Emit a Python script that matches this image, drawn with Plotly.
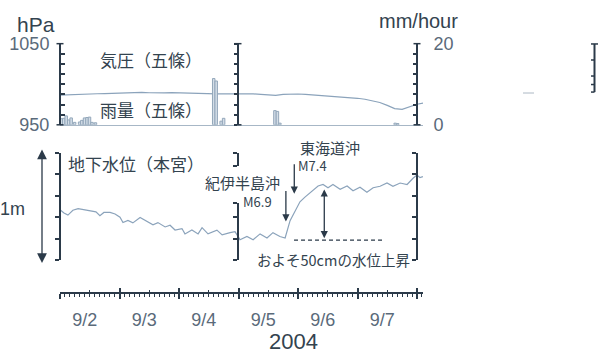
import pandas as pd
import plotly.graph_objects as go

# ---------------- data ----------------
T0 = pd.Timestamp("2004-09-02 00:00")

# barometric pressure at Gojo (hPa), every 3 hours from 9/2 00:00
pressure_hours = [0, 3, 6, 9, 12, 15, 18, 21, 24, 27, 30, 33, 36, 39, 42, 45, 48, 51, 54, 57,
                  60, 63, 66, 69, 72, 75, 78, 81, 84, 87, 90, 93, 96, 99, 102, 105, 108, 111,
                  114, 117, 120, 123, 126, 129, 132, 135, 138, 141, 144, 147]
pressure_hpa = [986.5, 987.0, 987.5, 987.8, 988.0, 988.3, 988.5, 989.0, 989.3, 989.5,
                990.0, 990.1, 989.5, 989.1, 989.3, 989.7, 989.3, 989.1, 988.7, 988.5,
                988.3, 988.1, 988.2, 988.3, 988.3, 988.3, 988.1, 987.5, 986.7, 986.3,
                987.5, 988.2, 988.0, 987.5, 986.8, 986.3, 985.8, 985.3, 984.5, 983.7,
                982.7, 981.5, 979.7, 977.5, 974.0, 970.0, 969.1, 972.0, 975.3, 977.0]

# hourly rainfall at Gojo (mm/hour); hour = start of the hour from 9/2 00:00
rain_hours = [0, 1, 2, 3, 4, 5.4, 7.4, 8.3, 9.4, 10.4, 11.4, 12.4, 13.8,
              61.5, 62.5, 64.5, 65.5, 86.2, 87.2, 88.2, 134.7, 135.7]
rain_mm = [1.5, 1.6, 2.2, 1.2, 1.7, 0.6, 0.7, 1.1, 1.7, 1.8, 1.9, 0.6, 0.5,
           11.4, 10.8, 0.9, 1.6, 3.5, 3.3, 0.4, 0.4, 0.3]

# groundwater level at Hongu (cm, relative)
gw_hours = [0, 1.6, 3.2, 5.2, 7.3, 9.7, 12.1, 14.5, 16.1, 17.7, 20.2, 22.2, 24.2, 25.4,
            27.4, 29.4, 32.3, 35.1, 37.5, 39.5, 42.4, 44.4, 46.4, 49.2, 50.4, 53.2, 55.7,
            57.3, 59.7, 63.3, 65.4, 68.6, 70.6, 72.6, 75.4, 77.9, 80.7, 83.5, 85.9, 88.7,
            90.8, 92.8, 95.6, 96.8, 98.8, 101.7, 104.1, 106.1, 108.1, 110.1, 113.0, 115.8,
            118.2, 121.0, 123.8, 126.3, 129.1, 131.9, 134.3, 137.2, 140.0, 142.4, 144.0,
            145.2, 146.4]
gw_cm = [47, 44, 42, 46.5, 48, 47, 46, 45, 41.5, 44.5, 44.5, 43, 40, 35,
         37, 34.7, 39.7, 36, 33, 35, 30.9, 32.5, 28, 29.4, 24.4, 28, 24.4,
         30.3, 24.4, 27.9, 23.5, 25.6, 26.5, 19, 22, 19, 24.4, 20.6, 25.6, 22,
         20.6, 36.8, 50, 54.4, 58.8, 64.7, 69.2, 70.6, 67.6, 70.6, 66.2, 69.2,
         64.7, 68, 63.3, 67.6, 69, 72, 69, 72, 70.6, 76.5, 79.4,
         77, 78]

# earthquakes
quake_times = ["2004-09-05 19:07", "2004-09-05 22:30"]
quake_names = ["紀伊半島沖", "東海道沖"]
quake_mags = ["M6.9", "M7.4"]
quake_arrow_cm = [(66, 36), (91, 62)]      # arrow tail / head levels

# "about 50 cm rise" marker
base_level_cm = 18.5
base_times = ["2004-09-05 22:24", "2004-09-07 09:54"]
rise_time = "2004-09-06 10:36"
rise_cm = (19, 66)

# axis ticks / labels
pressure_ticks = [950, 962.5, 975, 987.5, 1000, 1012.5, 1025, 1037.5, 1050]
pressure_ticktext = ["950", "", "", "", "", "", "", "", "1050"]
rain_ticks = [0, 2.5, 5, 7.5, 10, 12.5, 15, 17.5, 20]
rain_ticktext = ["0", "", "", "", "", "", "", "", "20"]
gw_ticks = [0, 20, 40, 60, 80, 100]

# ---------------- layout helpers ----------------
W, H = 600, 353
def px(x):
    return x / W
def py(y):
    return 1 - y / H

AX = "#2b3a49"
TXT = "#33434f"
NUM = "#5a6a7a"
LINE = "#8ba3bb"
JP = "Noto Sans CJK JP"
LAT = "Liberation Sans, Arial, sans-serif"

x_start = T0
x_end = T0 + pd.Timedelta(days=(423 - 60) / 59.5)
XDOM = [px(60), px(423)]
TOP = [py(121.7), py(35.7)]
BOT = [py(265), py(151.7)]

def ts(hours):
    return [T0 + pd.Timedelta(hours=h) for h in hours]

fig = go.Figure()

fig.add_trace(go.Bar(x=ts(rain_hours), y=rain_mm, xaxis="x", yaxis="y2",
                     width=3600000, offset=0,
                     marker=dict(color="#d3dde7", line=dict(color="#93a7ba", width=1)),
                     hoverinfo="skip", showlegend=False))
fig.add_trace(go.Scatter(x=ts(pressure_hours), y=pressure_hpa, xaxis="x", yaxis="y",
                         mode="lines", line=dict(color=LINE, width=1.2),
                         hoverinfo="skip", showlegend=False))
fig.add_trace(go.Scatter(x=ts(gw_hours), y=gw_cm, xaxis="x", yaxis="y4",
                         mode="lines", line=dict(color=LINE, width=1.2),
                         hoverinfo="skip", showlegend=False))
fig.add_trace(go.Scatter(x=base_times, y=[base_level_cm, base_level_cm], xaxis="x", yaxis="y4",
                         mode="lines", line=dict(color=AX, width=1.2, dash="4px,3px"),
                         hoverinfo="skip", showlegend=False))
# empty traces so that every decorative axis is drawn
for xa, ya in [("x", "y3"), ("x", "y5"), ("x", "y6"), ("x", "y7"), ("x2", "y4"), ("x3", "y4")]:
    fig.add_trace(go.Scatter(x=[None], y=[None], xaxis=xa, yaxis=ya, mode="lines",
                             hoverinfo="skip", showlegend=False))

common_x = dict(range=[x_start, x_end], domain=XDOM, showgrid=False, zeroline=False, type="date")
fig.update_layout(
    width=W, height=H, margin=dict(l=0, r=0, t=0, b=0),
    paper_bgcolor="white", plot_bgcolor="rgba(0,0,0,0)", barmode="overlay",
    xaxis=dict(**common_x, anchor="y", showline=True, linecolor="#a7b7c6", linewidth=1,
               ticks="", showticklabels=False),
    xaxis2=dict(**common_x, anchor="free", position=py(300), side="bottom",
                showline=True, linecolor=AX, linewidth=2,
                ticks="outside", ticklen=5, tickwidth=1.5, tickcolor=AX,
                tick0=T0, dtick=86400000, tickformat="%-m/%-d", ticklabelmode="period",
                ticklabelshift=-5, ticklabelstandoff=5,
                tickfont=dict(family=LAT, size=18, color=NUM),
                minor=dict(dtick=7200000, tick0=T0, ticks="outside", ticklen=2.5,
                           tickwidth=1, tickcolor=AX)),
    xaxis3=dict(**common_x, anchor="free", position=py(300), overlaying="x2", side="bottom",
                showline=False, ticks="inside", ticklen=5, tickwidth=1.5, tickcolor=AX,
                tick0=T0, dtick=86400000, showticklabels=False,
                minor=dict(dtick=43200000, tick0=T0, ticks="inside", ticklen=3,
                           tickwidth=1, tickcolor=AX)),
    yaxis=dict(domain=TOP, range=[950, 1050], anchor="free", position=px(60), side="left",
               showline=True, linecolor=AX, linewidth=2, ticks="inside", ticklen=3.5,
               tickwidth=1.5, tickcolor=AX, tickvals=pressure_ticks, ticktext=pressure_ticktext,
               ticklabelstandoff=6, tickfont=dict(family=LAT, size=18, color=NUM),
               showgrid=False, zeroline=False),
    yaxis2=dict(range=[0, 20], anchor="free", position=px(417), side="right", overlaying="y",
                showline=True, linecolor=AX, linewidth=2, ticks="inside", ticklen=3.5,
                tickwidth=1.5, tickcolor=AX, tickvals=rain_ticks, ticktext=rain_ticktext,
                ticklabelstandoff=12, tickfont=dict(family=LAT, size=18, color=NUM),
                showgrid=False, zeroline=False),
    yaxis3=dict(range=[950, 1050], anchor="free", position=px(238), side="left", overlaying="y",
                showline=True, linecolor=AX, linewidth=2, ticks="outside", ticklen=3.5,
                tickwidth=1.5, tickcolor=AX, tickvals=pressure_ticks, showticklabels=False,
                showgrid=False, zeroline=False),
    yaxis4=dict(domain=BOT, range=[0, 100], anchor="free", position=px(60), side="left",
                showline=True, linecolor=AX, linewidth=2, ticks="outside", ticklen=4,
                tickwidth=1.5, tickcolor=AX, tickvals=gw_ticks, showticklabels=False,
                showgrid=False, zeroline=False),
    yaxis5=dict(range=[0, 100], anchor="free", position=px(417), side="left", overlaying="y4",
                showline=True, linecolor=AX, linewidth=2, ticks="outside", ticklen=4,
                tickwidth=1.5, tickcolor=AX, tickvals=gw_ticks, showticklabels=False,
                showgrid=False, zeroline=False),
    yaxis6=dict(domain=[py(265), py(205)], range=[0, 100 * (265 - 205) / (265 - 151.7)],
                anchor="free", position=px(238), side="left",
                showline=True, linecolor=AX, linewidth=2, ticks="outside", ticklen=4,
                tickwidth=1.5, tickcolor=AX,
                tickvals=[0, 20, 40, 100 * (265 - 205) / (265 - 151.7)],
                showticklabels=False, showgrid=False, zeroline=False),
    yaxis7=dict(domain=[py(165), py(151.7)], range=[0, 1], anchor="free", position=px(238),
                side="left", showline=True, linecolor=AX, linewidth=2, ticks="outside",
                ticklen=4, tickwidth=1.5, tickcolor=AX, tickvals=[0, 1],
                showticklabels=False, showgrid=False, zeroline=False),
)

shapes = []
# caps on the top panel axes (both sides)
for xp in (60, 238, 417):
    for yy in (0, 1):
        shapes.append(dict(type="line", xref="paper", yref="y domain",
                           x0=px(xp - 3.5), x1=px(xp + 3.5), y0=yy, y1=yy,
                           line=dict(color=AX, width=1.5)))
# stray fragment at far right
shapes.append(dict(type="line", xref="paper", yref="paper", x0=px(594.5), x1=px(594.5),
                   y0=py(36), y1=py(87), line=dict(color=AX, width=2)))
for yy, l, r in [(36, 591, 598), (53, 591, 594.5), (70, 591, 594.5), (79, 591, 594.5), (87, 591, 594.5)]:
    shapes.append(dict(type="line", xref="paper", yref="paper", x0=px(l), x1=px(r),
                       y0=py(yy), y1=py(yy), line=dict(color=AX, width=1.5)))
shapes.append(dict(type="line", xref="paper", yref="paper", x0=px(523), x1=px(534),
                   y0=py(88), y1=py(88), line=dict(color="#c8d0d8", width=1.5)))
fig.update_layout(shapes=shapes)

ann = []
def text(x, y, s, size, family=JP, color=TXT, xanchor="left"):
    ann.append(dict(x=px(x), y=py(y), xref="paper", yref="paper", text=s, showarrow=False,
                    xanchor=xanchor, yanchor="middle", borderpad=0,
                    font=dict(family=family, size=size, color=color)))

text(36, 15, "hPa", 21, LAT, TXT, "center")
text(418, 12, "mm/hour", 20, LAT, TXT, "center")
text(293, 351, "2004", 22, LAT, TXT, "center")
text(12, 211, "1m", 18, LAT, TXT, "center")
text(99, 53, "気圧（五條）", 17)
text(99, 105, "雨量（五條）", 17)
text(67, 163, "地下水位（本宮）", 17)
text(204, 183, quake_names[0], 15)
text(242, 203, quake_mags[0], 13)
text(299, 145.5, quake_names[1], 15)
text(297, 165, quake_mags[1], 13)
text(256, 265, "およそ50cmの水位上昇", 14.5)

for t, (tail, head) in zip(quake_times, quake_arrow_cm):
    ann.append(dict(x=t, y=head, ax=t, ay=tail, xref="x", yref="y4", axref="x", ayref="y4",
                    text="", showarrow=True, arrowhead=2, arrowsize=1.1, arrowwidth=1.3,
                    arrowcolor=AX))
ann.append(dict(x=rise_time, y=rise_cm[1], ax=rise_time, ay=rise_cm[0], xref="x", yref="y4",
                axref="x", ayref="y4", text="", showarrow=True, arrowhead=2, arrowside="end+start",
                arrowsize=1.1, arrowwidth=1.3, arrowcolor=AX))
ann.append(dict(x=px(42), y=py(148), xref="paper", yref="paper", ax=0, ay=115, text="",
                showarrow=True, arrowhead=2, arrowside="end+start", arrowsize=1.5,
                arrowwidth=1.3, arrowcolor=AX))
fig.update_layout(annotations=ann)

fig.write_html("out.html")
